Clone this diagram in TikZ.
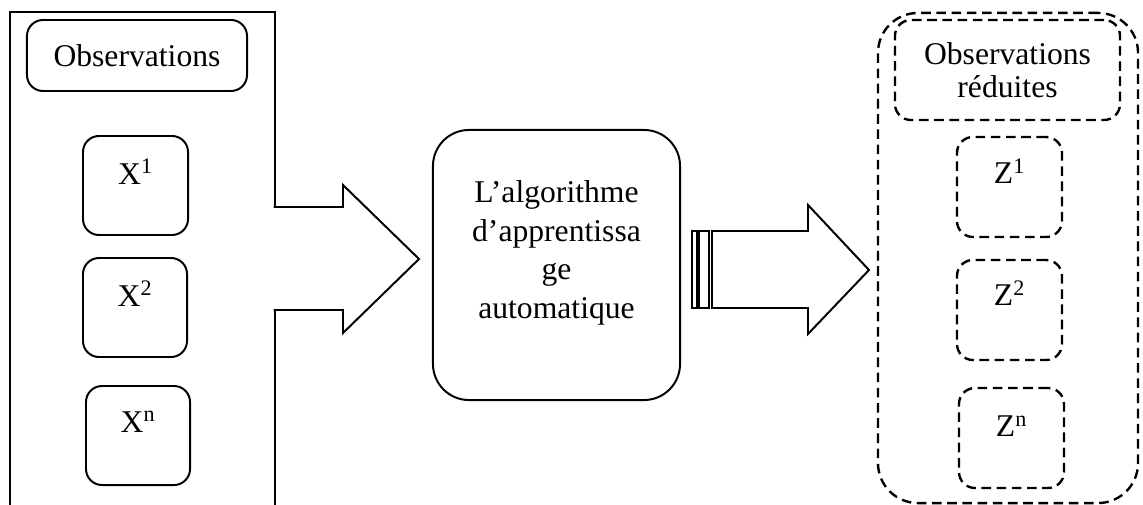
\documentclass[tikz,border=0pt]{standalone}
\usepackage{fontspec}
\setmainfont{Liberation Serif}
\usetikzlibrary{positioning}
\tikzset{
  box/.style={draw,line width=1.4pt,rounded corners=0.4cm,inner sep=0pt},
  dbox/.style={box,line width=1.7pt,dash pattern=on 0.24cm off 0.14cm},
  sup/.style={anchor=base},
  blockarrow/.style={draw,fill=white,line width=1.4pt,line join=miter}
}

\begin{document}
\begin{tikzpicture}[x=0.025cm,y=-0.025cm,font=\fontsize{22.5}{23.5}\selectfont]
  \useasboundingbox (0,0) rectangle (1143,505);
  % observations
  \node[draw,line width=1.4pt,inner sep=0pt,minimum width=6.625cm,minimum height=12.375cm] (obsframe) at (142.5,259.5) {};
  \node[box,minimum width=5.5cm,minimum height=1.775cm] (obs) at (137,55.5) {Observations};
  \node[box,minimum width=2.625cm,minimum height=2.475cm] (x1) at (135.5,185.5) {};
  \node[box,minimum width=2.6cm,minimum height=2.475cm] (x2) at (135,307.5) {};
  \node[box,minimum width=2.6cm,minimum height=2.475cm] (xn) at (138,435.5) {};
  \node[sup] at ([yshift=-1.225cm]x1.north) {X\textsuperscript{1}};
  \node[sup] at ([yshift=-1.225cm]x2.north) {X\textsuperscript{2}};
  \node[sup] at ([yshift=-1.175cm]xn.north) {X\textsuperscript{n}};
  % big arrow
  \draw[blockarrow] (273.5,207) -- (343,207) -- (343,185) -- (419,259) -- (343,333) -- (343,310) -- (273.5,310);
  % algorithm
  \node[box,rounded corners=0.9cm,minimum width=6.175cm,minimum height=6.75cm] (algo) at (556.5,265) {};
  \node[align=center,font=\fontsize{22.5}{27.5}\selectfont] (algotxt) at ([yshift=0.3cm]algo.center) {L’algorithme\\d’apprentissa\\ge\\automatique};
  % striped arrow
  \draw[blockarrow] (692,231) rectangle (697,308);
  \draw[blockarrow] (699,231) rectangle (709,308);
  \draw[blockarrow] (712,231) -- (808,231) -- (808,205) -- (869,270) -- (808,334) -- (808,308) -- (712,308) -- cycle;
  % reduced observations
  \node[dbox,rounded corners=1cm,minimum width=6.5cm,minimum height=12.25cm] (redframe) at (1008,258) {};
  \node[dbox,minimum width=5.625cm,minimum height=2.5cm,align=center] (redobs) at (1007.5,70) {Observations\\réduites};
  \node[dbox,minimum width=2.625cm,minimum height=2.5cm] (z1) at (1009.5,187) {};
  \node[dbox,minimum width=2.625cm,minimum height=2.5cm] (z2) at (1009.5,310) {};
  \node[dbox,minimum width=2.625cm,minimum height=2.5cm] (zn) at (1011.5,438) {};
  \node[sup] at ([yshift=-1.2cm]z1.north) {Z\textsuperscript{1}};
  \node[sup] at ([yshift=-1.175cm]z2.north) {Z\textsuperscript{2}};
  \node[sup] at ([yshift=-1.25cm]zn.north) {Z\textsuperscript{n}};
\end{tikzpicture}
\end{document}
